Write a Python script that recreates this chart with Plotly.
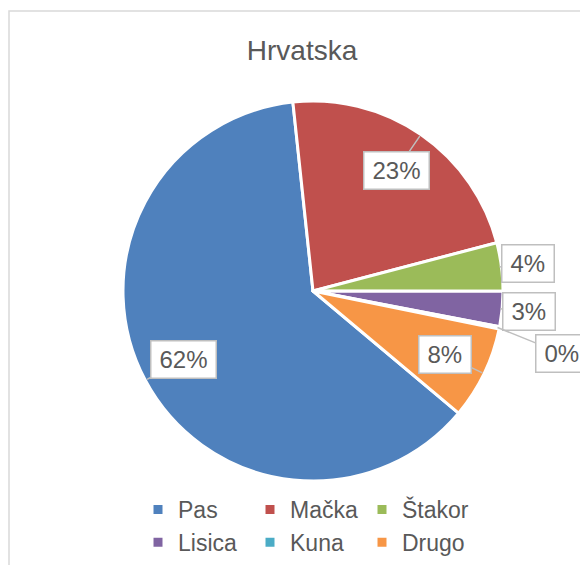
import math
import plotly.graph_objects as go

# ---- data ----
labels = ["Pas", "Mačka", "Štakor", "Lisica", "Kuna", "Drugo"]
values = [62.2, 22.6, 4.1, 3.0, 0.2, 7.9]
colors = ["#4F81BD", "#C0504D", "#9BBB59", "#8064A2", "#4BACC6", "#F79646"]
title_text = "Hrvatska"

# ---- layout geometry (page pixels; page body has an 8px margin) ----
OFF = 8
W, H = 588 - OFF, 565 - OFF
ML, MR, MT, MB = 105, 75, 0, 0
GW, GH = W - ML - MR, H - MT - MB
CX, CY, R = 313, 291, 190
ROTATION = 130
TXT = "#595959"
FONT = "Liberation Sans, Arial"
LBL_SIZE = 24


def px2x(px):
    return (px - OFF - ML) / GW


def py2y(py):
    return 1 - (py - OFF - MT) / GH


def text_w(s, size):
    widths = {"%": 0.889}
    return sum(widths.get(c, 0.556) for c in s) * size


fig = go.Figure(go.Pie(
    labels=labels, values=values, sort=False, direction="clockwise",
    rotation=ROTATION, textinfo="none", hoverinfo="label+percent",
    marker=dict(colors=colors, line=dict(color="white", width=3)),
    domain=dict(x=[px2x(CX - R), px2x(CX + R)], y=[py2y(CY + R), py2y(CY - R)]),
))

# ---- data labels derived from the values ----
total = sum(values)
ang = ROTATION
annotations = []
last_out_y = None
for lab, v in zip(labels, values):
    span = v / total * 360
    mid = math.radians(ang + span / 2)
    ang += span
    pct = f"{round(v / total * 100)}%"
    sx, sy = math.sin(mid), -math.cos(mid)
    tipx, tipy = CX + R * 0.99 * sx, CY + R * 0.99 * sy
    if v / total >= 0.05:
        bx, by = CX + 0.77 * R * sx, CY + 0.77 * R * sy
    else:
        bx, by = CX + 1.14 * R * sx, CY + 1.14 * R * sy
        if last_out_y is not None and by < last_out_y + 42:
            by = last_out_y + 42
            rr = 1.35 * R
            bx = CX + math.sqrt(max(rr ** 2 - (by - CY) ** 2, 0))
        last_out_y = by
    annotations.append(dict(
        x=px2x(tipx), y=py2y(tipy), xref="paper", yref="paper",
        ax=bx - tipx, ay=by - tipy, axref="pixel", ayref="pixel",
        text=pct, showarrow=True, arrowhead=0, arrowwidth=1.5,
        arrowcolor="#BFBFBF", font=dict(size=LBL_SIZE, color=TXT, family=FONT),
        width=text_w(pct, LBL_SIZE) + 8, height=28, align="center",
        bgcolor="white", bordercolor="#BFBFBF", borderwidth=1.5, borderpad=4,
    ))

fig.update_layout(
    width=W, height=H, margin=dict(l=ML, r=MR, t=MT, b=MB),
    paper_bgcolor="white", plot_bgcolor="white",
    font=dict(family=FONT, color=TXT),
    title=dict(text=title_text, x=(302 - OFF) / W, xanchor="center",
               y=1 - (50 - OFF) / H, yanchor="middle",
               font=dict(size=28, color=TXT)),
    showlegend=True,
    legend=dict(orientation="h", x=px2x(138), xanchor="left", y=py2y(488),
                yanchor="top", entrywidth=67, entrywidthmode="pixels",
                font=dict(size=23, color=TXT), traceorder="normal"),
    annotations=annotations,
    shapes=[dict(type="rect", xref="paper", yref="paper",
                 x0=px2x(9), x1=px2x(588 + 20), y0=py2y(565 + 20), y1=py2y(11),
                 line=dict(color="#D9D9D9", width=1.5), fillcolor="rgba(0,0,0,0)",
                 layer="below")],
)

fig.write_html("out.html")
